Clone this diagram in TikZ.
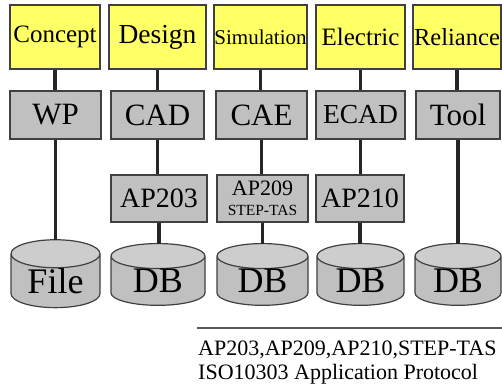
\documentclass[tikz,border=0pt]{standalone}
\usepackage{fontspec}
\setmainfont{Liberation Serif}
\usetikzlibrary{shapes.geometric, calc}

\definecolor{phasefill}{HTML}{FFFF66}
\definecolor{toolfill}{HTML}{C0C0C0}
\newcommand{\fsz}[1]{\fontsize{#1}{#1}\selectfont}

\tikzset{
	box/.style={draw=black!75, line width=1.2pt, inner sep=0pt},
	phase/.style={box, fill=phasefill, minimum height=64pt},
	app/.style={box, fill=toolfill, minimum height=48pt},
	proto/.style={box, fill=toolfill, minimum height=47pt},
	store/.style={cylinder, shape border rotate=90, aspect=0.5, draw=black!75, line width=1.2pt,
		cylinder uses custom fill, cylinder body fill=toolfill, cylinder end fill=toolfill!80,
		inner sep=0pt, outer sep=0pt, minimum height=60pt, font=\fsz{36}},
	link/.style={line width=3.4pt, black!85},
}

\begin{document}
\begin{tikzpicture}[x=1pt, y=-1pt]
		\useasboundingbox (0,0) rectangle (502,386);

		% phases
		\node[phase, minimum width=90pt, font=\fsz{25}] (concept) at (55,37) {Concept};
		\node[phase, minimum width=97pt, font=\fsz{27.5}] (design) at (157.5,37) {Design};
		\node[phase, minimum width=93pt, font=\fsz{21}] (simulation) at (260.5,37) {Simulation};
		\node[phase, minimum width=89pt, font=\fsz{25}] (electric) at (360.5,37) {Electric};
		\node[phase, minimum width=88pt, font=\fsz{24.5}] (reliance) at (457,37) {Reliance};

		% applications
		\node[app, minimum width=91pt, font=\fsz{31}] (wp) at (55.5,115) {WP};
		\node[app, minimum width=93pt, font=\fsz{31}] (cad) at (157.5,115) {CAD};
		\node[app, minimum width=91pt, font=\fsz{31}] (cae) at (261.5,115) {CAE};
		\node[app, minimum width=89pt, font=\fsz{27.5}] (ecad) at (360.5,115) {ECAD};
		\node[app, minimum width=84pt, font=\fsz{31}] (tool) at (458,115) {Tool};

		% protocols
		\node[proto, minimum width=96pt, font=\fsz{28}] (ap203) at (159,198.5) {AP203};
		\node[proto, minimum width=91pt, align=center, font=\fontsize{15.5}{20}\selectfont] (ap209) at (262.5,198.5)
			{{\fontsize{22}{20}\selectfont AP209}\\STEP-TAS};
		\node[proto, minimum width=88pt, font=\fsz{28}] (ap210) at (360,198.5) {AP210};

		% storage
		\node[store, minimum width=89pt] (file) at (55.5,281) {File};
		\node[store, minimum width=94pt] (db1) at (158,281) {DB};
		\node[store, minimum width=91pt] (db2) at (262.5,281) {DB};
		\node[store, minimum width=87pt] (db3) at (360.5,281) {DB};
		\node[store, minimum width=86pt] (db4) at (458,281) {DB};

		\draw[link] (concept.south) -- (concept.south |- wp.north);
		\draw[link] (design.south) -- (design.south |- cad.north);
		\draw[link] (simulation.south) -- (simulation.south |- cae.north);
		\draw[link] (electric.south) -- (electric.south |- ecad.north);
		\draw[link] (reliance.south) -- (reliance.south |- tool.north);

		\draw[link] (wp.south) -- (wp.south |- file.north);
		\draw[link] (cad.south) -- (cad.south |- ap203.north);
		\draw[link] (ap203.south) -- (ap203.south |- db1.north);
		\draw[link] (cae.south) -- (cae.south |- ap209.north);
		\draw[link] (ap209.south) -- (ap209.south |- db2.north);
		\draw[link] (ecad.south) -- (ecad.south |- ap210.north);
		\draw[link] (ap210.south) -- (ap210.south |- db3.north);
		\draw[link] (tool.south) -- (tool.south |- db4.north);

		% legend
		\draw[black!65, line width=1.2pt] (197,328) -- (502,328);
		\node[anchor=north west, align=left, inner sep=0pt, font=\fsz{22}] (note) at (198,341)
			{AP203,AP209,AP210,STEP-TAS\\[1.5pt]ISO10303 Application Protocol};
	\end{tikzpicture}
\end{document}
